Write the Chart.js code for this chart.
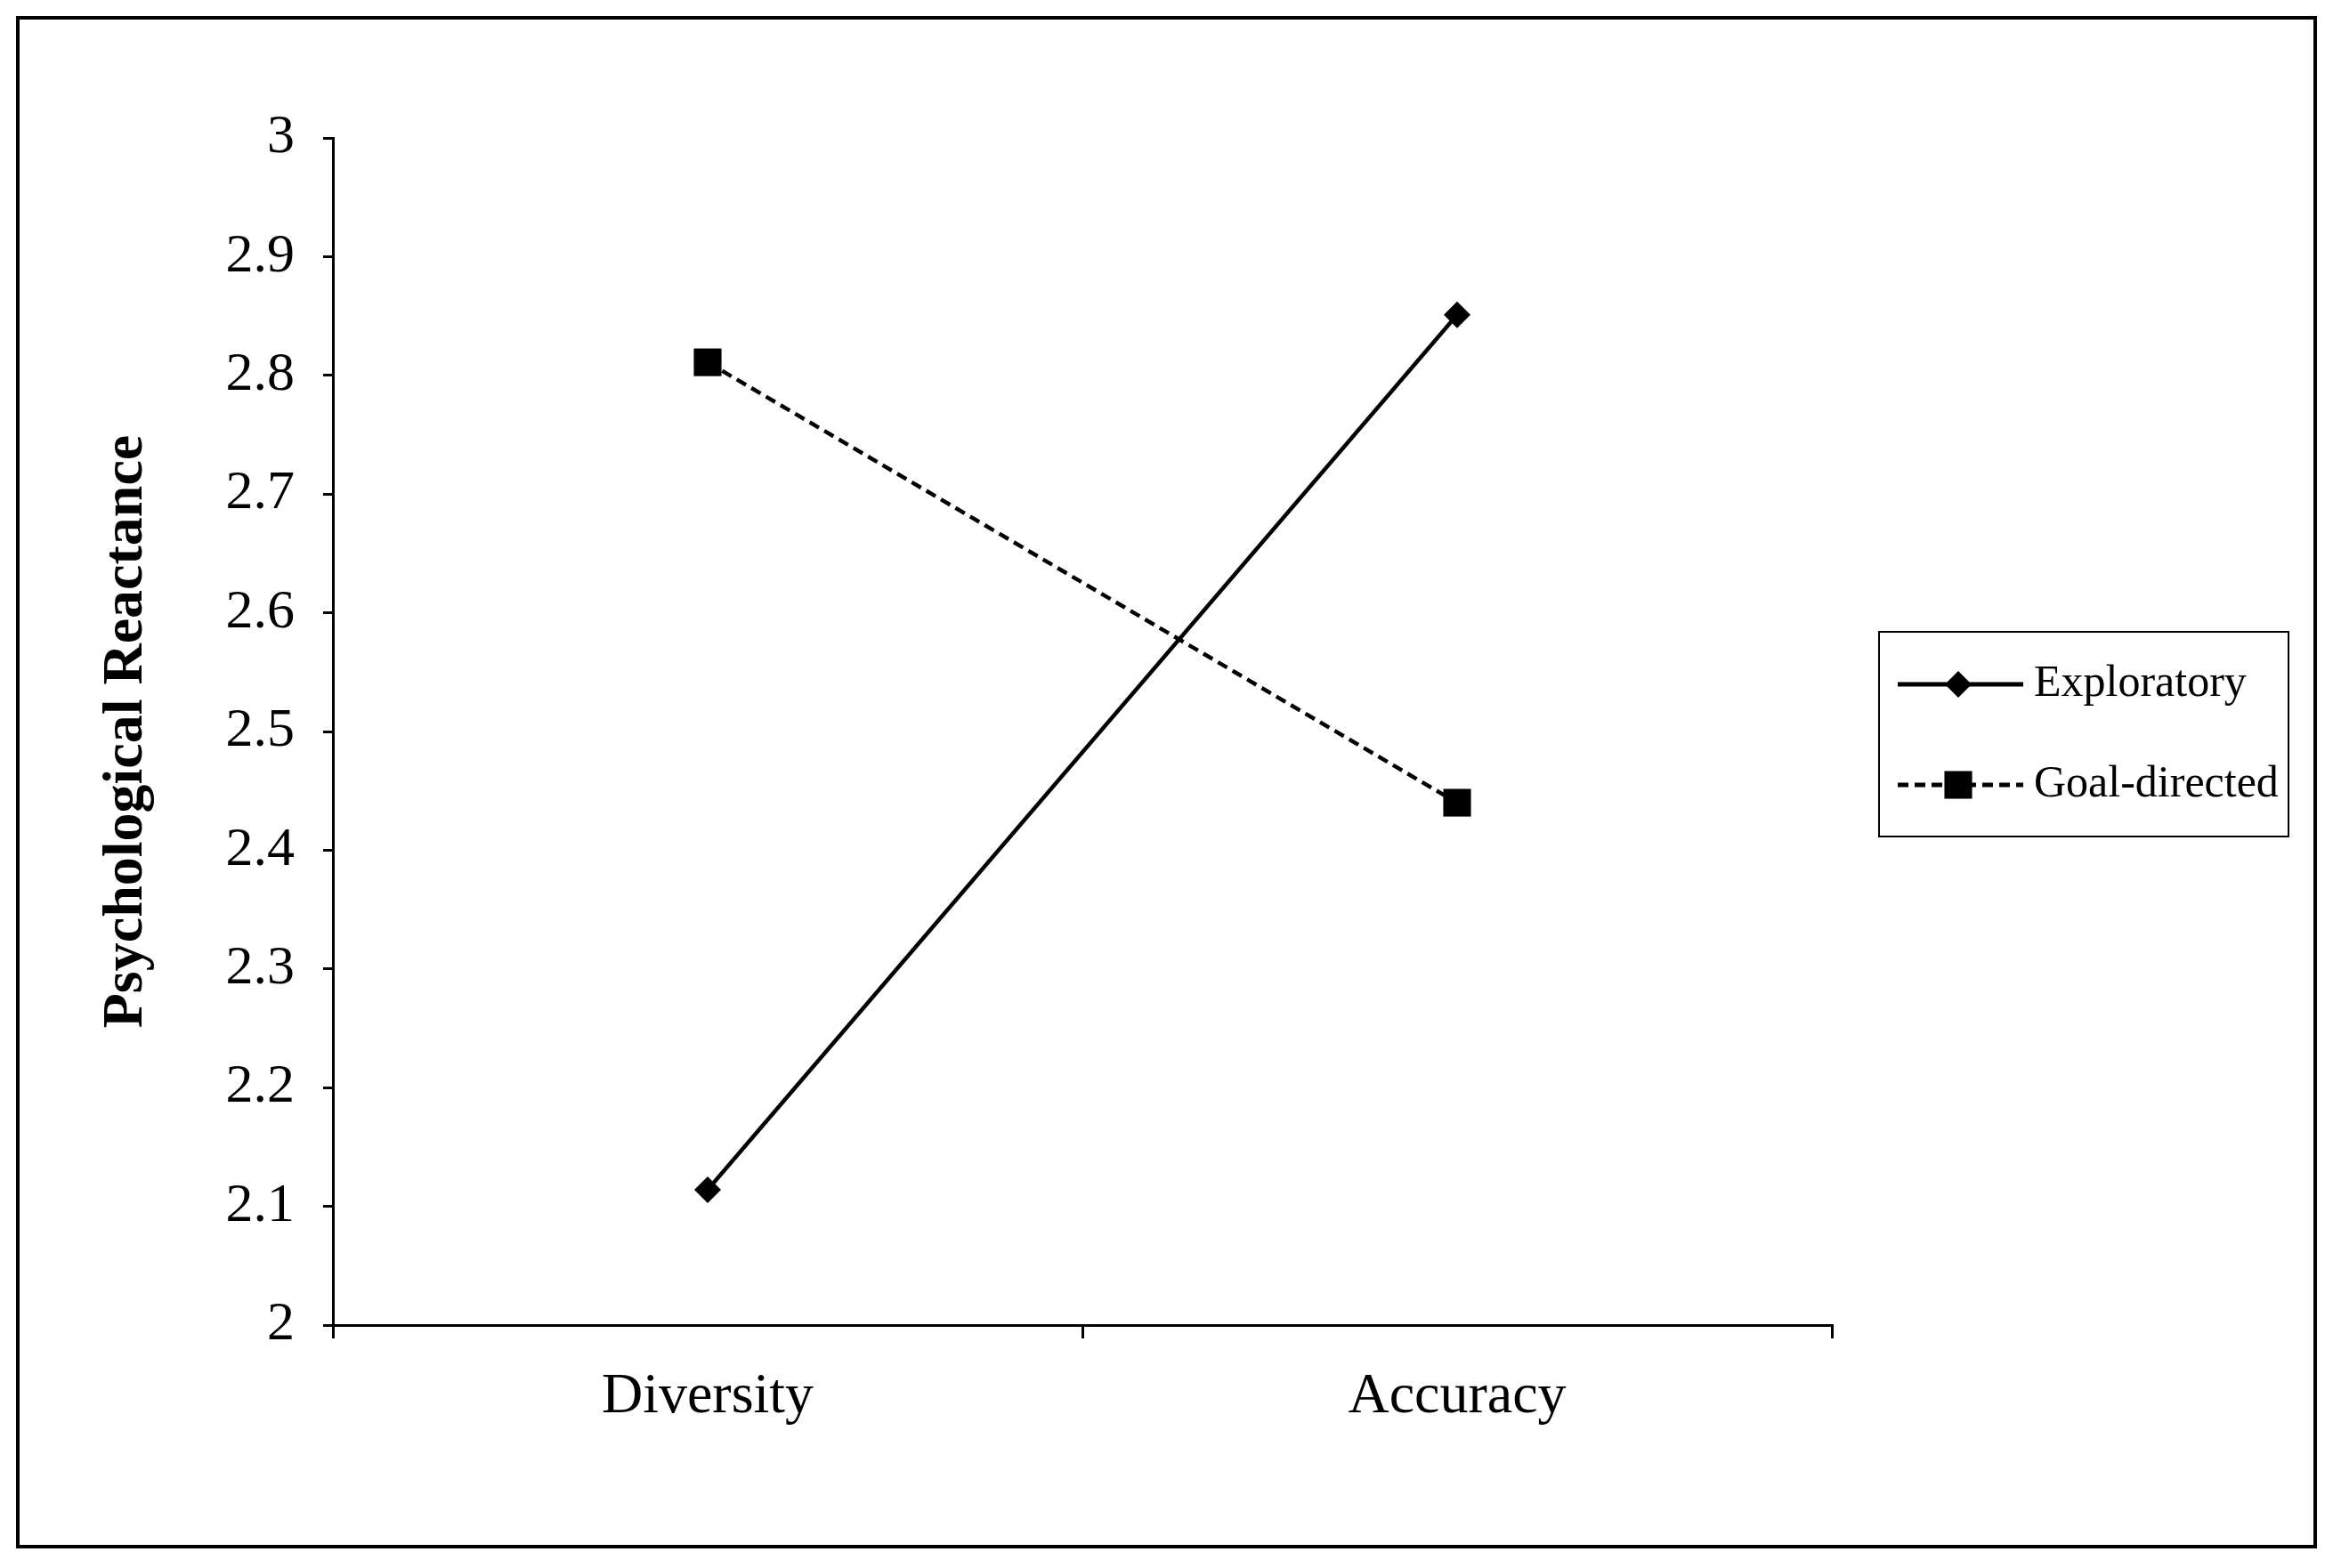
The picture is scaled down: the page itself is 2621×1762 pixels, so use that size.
<!DOCTYPE html>
<html>
<head>
<meta charset="utf-8">
<script src="https://cdn.jsdelivr.net/npm/chart.js@4.4.1/dist/chart.umd.min.js"></script>
<style>
  html, body { margin: 0; padding: 0; background: #fff; }
  #wrap { width: 2621px; height: 1762px; }
</style>
</head>
<body>
<div id="wrap"><canvas id="reactanceChart" width="2621" height="1762"></canvas></div>
<script>
const categories = ["Diversity", "Accuracy"];
const seriesNames = ["Exploratory", "Goal-directed"];
const exploratoryValues = [2.114, 2.851];
const goalDirectedValues = [2.811, 2.44];
const yTickLabels = ["2", "2.1", "2.2", "2.3", "2.4", "2.5", "2.6", "2.7", "2.8", "2.9", "3"];
const yAxisTitle = "Psychological Reactance";

const serif = "'Liberation Serif', 'Times New Roman', serif";

// marker shapes, shared by the plot points and the boxed legend
function drawMarker(ctx, style, x, y, r) {
    ctx.beginPath();
    if (style === "rectRot") {
        ctx.moveTo(x, y - r);
        ctx.lineTo(x + r, y);
        ctx.lineTo(x, y + r);
        ctx.lineTo(x - r, y);
    } else {
        const s = r * Math.SQRT1_2;
        ctx.rect(x - s, y - s, 2 * s, 2 * s);
    }
    ctx.closePath();
    ctx.fill();
}

const pageFrame = {
    id: "pageFrame",
    beforeDraw(chart) {
        const ctx = chart.ctx;
        ctx.save();
        ctx.fillStyle = "#fff";
        ctx.fillRect(0, 0, chart.width, chart.height);
        ctx.restore();
    },
    afterDraw(chart) {
        const ctx = chart.ctx;
        ctx.save();
        ctx.strokeStyle = "#000";
        ctx.lineWidth = 4;
        ctx.strokeRect(20, 20, 2581, 1718);
        ctx.restore();
    }
};

const boxLegend = {
    id: "boxLegend",
    afterDraw(chart) {
        const ctx = chart.ctx;
        ctx.save();
        ctx.strokeStyle = "#000";
        ctx.fillStyle = "#000";
        ctx.lineWidth = 2;
        ctx.strokeRect(2111, 710, 460, 230);
        chart.data.datasets.forEach((ds, i) => {
            const y = 769 + i * 113;
            ctx.setLineDash(ds.borderDash || []);
            ctx.lineWidth = 5;
            ctx.beginPath();
            ctx.moveTo(2132, y);
            ctx.lineTo(2273, y);
            ctx.stroke();
            ctx.setLineDash([]);
            drawMarker(ctx, ds.pointStyle, 2200, y, ds.pointRadius);
            ctx.font = "50px " + serif;
            ctx.textBaseline = "middle";
            ctx.textAlign = "left";
            ctx.fillText(ds.label, 2285, y);
        });
        ctx.restore();
    }
};

new Chart(document.getElementById("reactanceChart").getContext("2d"), {
    type: "line",
    data: {
        labels: categories,
        datasets: [
            { label: seriesNames[0], data: exploratoryValues, borderColor: "#000", backgroundColor: "#000", borderWidth: 4.5, pointStyle: "rectRot", pointRadius: 15, pointBorderWidth: 0, tension: 0 },
            { label: seriesNames[1], data: goalDirectedValues, borderColor: "#000", backgroundColor: "#000", borderWidth: 4.5, borderDash: [12, 7], pointStyle: "rect", pointRadius: 22, pointBorderWidth: 0, tension: 0 }
        ]
    },
    options: {
        responsive: false,
        animation: false,
        layout: { padding: { top: 155, right: 563, left: 0, bottom: 0 } },
        plugins: { legend: { display: false }, tooltip: { enabled: false } },
        scales: {
            x: {
                offset: true,
                afterFit: (scale) => { scale.height = 273; },
                border: { display: true, color: "#000", width: 3 },
                grid: { offset: true, drawOnChartArea: false, drawTicks: true, tickLength: 15, color: "#000", lineWidth: 3 },
                ticks: { color: "#000", padding: 28, font: { family: serif, size: 64 } }
            },
            y: {
                min: 2,
                max: 3,
                afterFit: (scale) => { scale.width = 374; },
                border: { display: true, color: "#000", width: 3 },
                grid: { drawOnChartArea: false, drawTicks: true, tickLength: 11, color: "#000", lineWidth: 3 },
                ticks: { stepSize: 0.1, color: "#000", padding: 32, font: { family: serif, size: 62 }, callback: (v, i) => yTickLabels[i] },
                title: { display: true, text: yAxisTitle, color: "#000", padding: { top: 104 }, font: { family: serif, size: 64, weight: "bold" } }
            }
        }
    },
    plugins: [pageFrame, boxLegend]
});
</script>
</body>
</html>
